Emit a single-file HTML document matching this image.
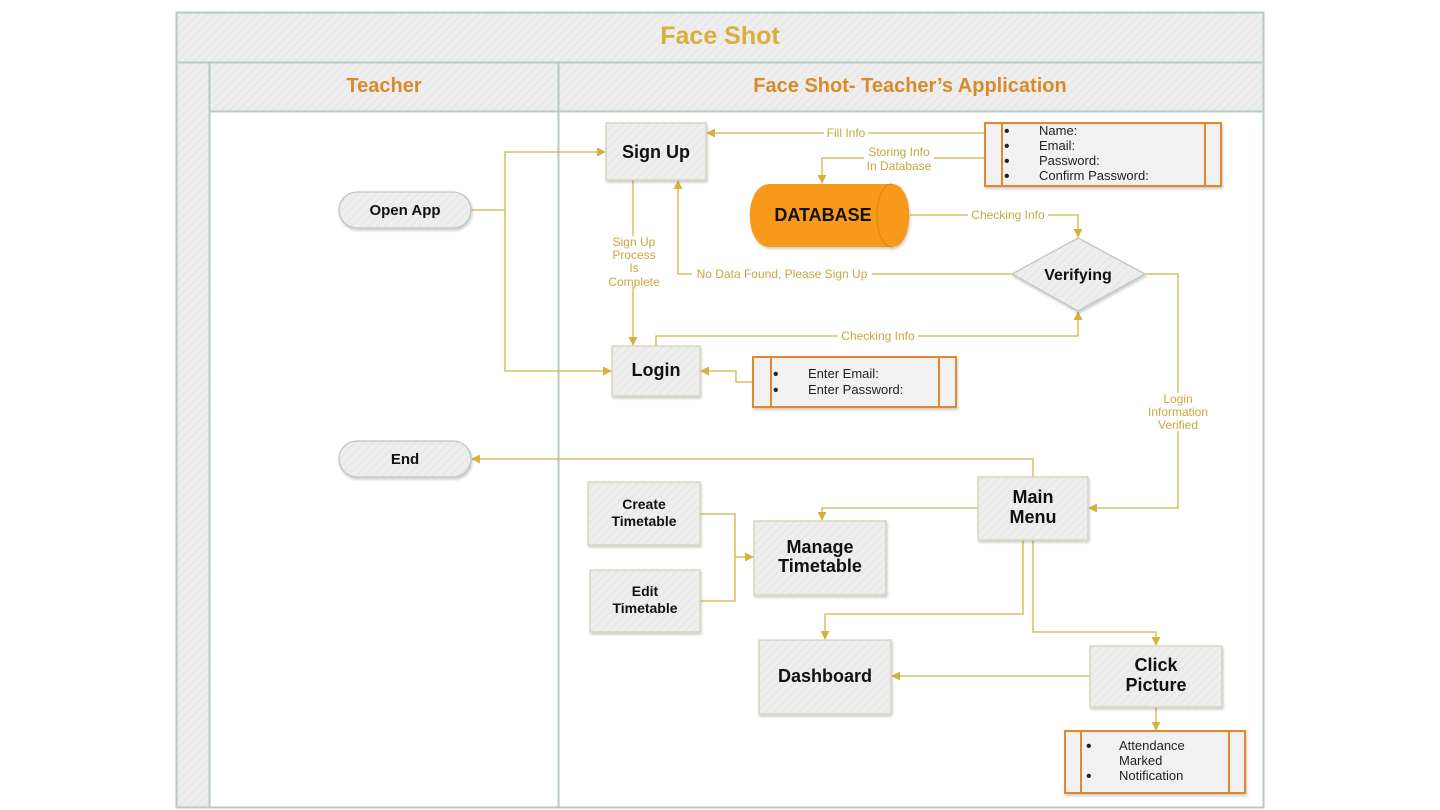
<!DOCTYPE html>
<html><head><meta charset="utf-8"><style>
html,body{margin:0;padding:0;background:#fff;}
svg{display:block;}
text{font-family:"Liberation Sans",sans-serif;}
</style></head><body>
<svg width="1440" height="810" viewBox="0 0 1440 810" xmlns="http://www.w3.org/2000/svg">
<defs>
<pattern id="h" width="6" height="6" patternUnits="userSpaceOnUse" patternTransform="rotate(45)">
<rect width="6" height="6" fill="#eeeeee"/><line x1="0" y1="0" x2="0" y2="6" stroke="#e4e4e4" stroke-width="2"/>
</pattern>
<marker id="a" viewBox="0 0 10 10" refX="9" refY="5" markerWidth="9" markerHeight="9" markerUnits="userSpaceOnUse" orient="auto">
<path d="M0,0 L10,5 L0,10 z" fill="#d4b23c"/></marker>
<filter id="s" x="-10%" y="-10%" width="130%" height="140%"><feDropShadow dx="1" dy="2" stdDeviation="1.2" flood-color="#000" flood-opacity="0.2"/></filter>
</defs>
<rect x="176.5" y="12.5" width="1087" height="795" fill="#fff" stroke="#b9c9c4" stroke-width="2"/>
<rect x="176.5" y="12.5" width="1087" height="50" fill="url(#h)" stroke="#b9c9c4" stroke-width="2"/>
<rect x="176.5" y="62.5" width="33" height="745" fill="url(#h)" stroke="#b9c9c4" stroke-width="2"/>
<rect x="209.5" y="62.5" width="349" height="49" fill="url(#h)" stroke="#b9c9c4" stroke-width="2"/>
<rect x="558.5" y="62.5" width="705" height="49" fill="url(#h)" stroke="#b9c9c4" stroke-width="2"/>
<line x1="558.5" y1="111" x2="558.5" y2="807" stroke="#b9c9c4" stroke-width="2"/>
<text x="720" y="44" text-anchor="middle" font-size="25" font-weight="bold" fill="#d9ae3a">Face Shot</text>
<text x="384" y="92" text-anchor="middle" font-size="20" font-weight="bold" fill="#d98a2a">Teacher</text>
<text x="910" y="92" text-anchor="middle" font-size="20" font-weight="bold" fill="#d98a2a">Face Shot- Teacher’s Application</text>

<g fill="none" stroke="#d4b44a" stroke-width="1.3">
<path d="M471,210 H505 V152 H605" marker-end="url(#a)"/>
<path d="M505,210 V371 H611" marker-end="url(#a)"/>
<path d="M985,133 H707" marker-end="url(#a)"/>
<path d="M985,158 H822 V183" marker-end="url(#a)"/>
<path d="M910,215 H1078 V237" marker-end="url(#a)"/>
<path d="M1012,274 H678 V181" marker-end="url(#a)"/>
<path d="M633,180 V345" marker-end="url(#a)"/>
<path d="M656,346 V336 H1078 V312" marker-end="url(#a)"/>
<path d="M753,382 H736 V371 H701" marker-end="url(#a)"/>
<path d="M1145,274 H1178 V508 H1089" marker-end="url(#a)"/>
<path d="M1033,477 V459 H472" marker-end="url(#a)"/>
<path d="M978,508 H822 V520" marker-end="url(#a)"/>
<path d="M700,514 H735 V601 H700"/>
<path d="M735,557 H753" marker-end="url(#a)"/>
<path d="M1023,540 V614 H825 V639" marker-end="url(#a)"/>
<path d="M1033,540 V632 H1156 V645" marker-end="url(#a)"/>
<path d="M1090,676 H892" marker-end="url(#a)"/>
<path d="M1156,707 V730" marker-end="url(#a)"/>
</g>
<g font-size="12" fill="#c9a640" text-anchor="middle">
<rect x="824" y="126" width="44" height="14" fill="#fff"/><text x="846" y="137">Fill Info</text>
<rect x="864" y="145" width="70" height="28" fill="#fff"/><text x="899" y="156">Storing Info</text><text x="899" y="170">In Database</text>
<rect x="968" y="208" width="80" height="14" fill="#fff"/><text x="1008" y="219">Checking Info</text>
<rect x="692" y="267" width="180" height="14" fill="#fff"/><text x="782" y="278">No Data Found, Please Sign Up</text>
<rect x="606" y="236" width="56" height="50" fill="#fff"/>
<text x="634" y="246">Sign Up</text><text x="634" y="259">Process</text><text x="634" y="272">Is</text><text x="634" y="286">Complete</text>
<rect x="838" y="329" width="80" height="14" fill="#fff"/><text x="878" y="340">Checking Info</text>
<rect x="1146" y="393" width="64" height="38" fill="#fff"/>
<text x="1178" y="403">Login</text><text x="1178" y="416">Information</text><text x="1178" y="429">Verified</text>
</g>

<g stroke="#d6d1b8" stroke-width="1.3" fill="url(#h)" filter="url(#s)">
<rect x="606" y="123" width="100" height="57"/>
<rect x="612" y="346" width="88" height="50"/>
<rect x="978" y="477" width="110" height="63"/>
<rect x="588" y="482" width="112" height="63"/>
<rect x="590" y="570" width="110" height="62"/>
<rect x="754" y="521" width="132" height="74"/>
<rect x="759" y="640" width="132" height="74"/>
<rect x="1090" y="646" width="132" height="61"/>
<rect x="339" y="192" width="132" height="36" rx="18" stroke="#b9c9c4"/>
<rect x="339" y="441" width="132" height="36" rx="18" stroke="#b9c9c4"/>
<polygon points="1078,238 1145,274 1078,311 1012,274" stroke="#b9c9c4"/>
</g>
<g filter="url(#s)">
<path d="M770,184 H892 C915,184 915,247 892,247 H770 C743,247 743,184 770,184 z" fill="#f79a1e"/>
<path d="M892,184 C872,184 872,247 892,247" fill="none" stroke="#e08712" stroke-width="1.2"/>
</g>
<g fill="#f1f1f1" stroke="#e0882a" stroke-width="2" filter="url(#s)">
<rect x="985" y="123" width="236" height="63"/>
<rect x="753" y="357" width="203" height="50"/>
<rect x="1065" y="731" width="180" height="62"/>
</g>
<g stroke="#e0882a" stroke-width="2">
<line x1="1002" y1="123" x2="1002" y2="186"/><line x1="1205" y1="123" x2="1205" y2="186"/>
<line x1="771" y1="357" x2="771" y2="407"/><line x1="939" y1="357" x2="939" y2="407"/>
<line x1="1081" y1="731" x2="1081" y2="793"/><line x1="1229" y1="731" x2="1229" y2="793"/>
</g>
<g font-size="13" fill="#222">
<text x="1004" y="136" font-size="16">•</text><text x="1039" y="135">Name:</text>
<text x="1004" y="151" font-size="16">•</text><text x="1039" y="150">Email:</text>
<text x="1004" y="166" font-size="16">•</text><text x="1039" y="165">Password:</text>
<text x="1004" y="181" font-size="16">•</text><text x="1039" y="180">Confirm Password:</text>
<text x="773" y="379" font-size="16">•</text><text x="808" y="378">Enter Email:</text>
<text x="773" y="395" font-size="16">•</text><text x="808" y="394">Enter Password:</text>
<text x="1086" y="751" font-size="16">•</text><text x="1119" y="750">Attendance</text>
<text x="1119" y="765">Marked</text>
<text x="1086" y="781" font-size="16">•</text><text x="1119" y="780">Notification</text>
</g>

<g font-weight="bold" fill="#111" text-anchor="middle">
<text x="656" y="158" font-size="18">Sign Up</text>
<text x="656" y="376" font-size="18">Login</text>
<text x="405" y="215" font-size="15">Open App</text>
<text x="405" y="464" font-size="15">End</text>
<text x="823" y="221" font-size="18">DATABASE</text>
<text x="1078" y="280" font-size="16">Verifying</text>
<text x="1033" y="503" font-size="18">Main</text><text x="1033" y="523" font-size="18">Menu</text>
<text x="644" y="509" font-size="14">Create</text><text x="644" y="526" font-size="14">Timetable</text>
<text x="645" y="596" font-size="14">Edit</text><text x="645" y="613" font-size="14">Timetable</text>
<text x="820" y="553" font-size="18">Manage</text><text x="820" y="572" font-size="18">Timetable</text>
<text x="825" y="682" font-size="18">Dashboard</text>
<text x="1156" y="671" font-size="18">Click</text><text x="1156" y="691" font-size="18">Picture</text>
</g>
</svg>
</body></html>
